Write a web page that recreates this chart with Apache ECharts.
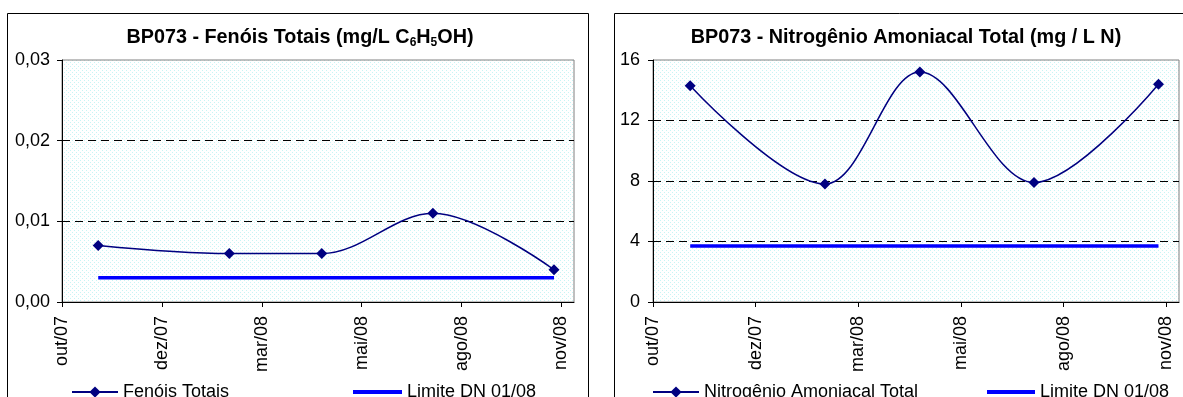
<!DOCTYPE html>
<html><head><meta charset="utf-8">
<script src="https://cdn.jsdelivr.net/npm/echarts@6/dist/echarts.min.js"></script>
<style>html,body{margin:0;padding:0;background:#fff}#c{width:1183px;height:397px}</style>
</head><body><div id="c"></div>
<script>
// ---- data ----
const axisStart = '2007-10-01';
const sampleDates = ['2007-10-30', '2008-02-12', '2008-04-26', '2008-07-24', '2008-10-29'];
const fenoisValues = [0.007, 0.006, 0.006, 0.011, 0.004];
const fenoisLimit = 0.003;
const nitrogenioValues = [14.3, 7.8, 15.2, 7.9, 14.4];
const nitrogenioLimit = 3.7;
const tickDays = [0, 80, 160, 240, 320, 400];
const tickLabels = ['out/07', 'dez/07', 'mar/08', 'mai/08', 'ago/08', 'nov/08'];
const axisEndDay = 410;
const fenoisTicks = ['0,00', '0,01', '0,02', '0,03'];
const nitrogenioTicks = ['0', '4', '8', '12', '16'];

// ---- helpers ----
function dayOf(s) {
  const p = s.split('-').map(Number);
  const a = axisStart.split('-').map(Number);
  return Math.round((Date.UTC(p[0], p[1] - 1, p[2]) - Date.UTC(a[0], a[1] - 1, a[2])) / 864e5);
}
const xs = sampleDates.map(dayOf);
const fenoisData = xs.map((x, i) => [x, fenoisValues[i]]);
const nitroData = xs.map((x, i) => [x, nitrogenioValues[i]]);
const fenoisLimitData = [[xs[0], fenoisLimit], [xs[xs.length - 1], fenoisLimit]];
const nitroLimitData = [[xs[0], nitrogenioLimit], [xs[xs.length - 1], nitrogenioLimit]];

// dotted background pattern
const pc = document.createElement('canvas');
pc.width = 4; pc.height = 4;
const pctx = pc.getContext('2d');
pctx.fillStyle = '#ffffff'; pctx.fillRect(0, 0, 4, 4);
pctx.fillStyle = '#c8f4f4';
pctx.fillRect(0, 0, 1, 1); pctx.fillRect(2, 2, 1, 1);
const bgPattern = { image: pc, repeat: 'repeat' };

const FONT = 'Liberation Sans, Arial, sans-serif';
const chart = echarts.init(document.getElementById('c'), null, { renderer: 'canvas' });

function xAxisCfg(gi) {
  return {
    type: 'value', gridIndex: gi, min: 0, max: axisEndDay,
    axisLine: { show: true, lineStyle: { color: '#000', width: 1 } },
    axisTick: { show: true, length: 5, inside: false, customValues: tickDays, lineStyle: { color: '#000' } },
    axisLabel: {
      customValues: tickDays, rotate: 90, margin: 14, color: '#000', fontFamily: FONT, fontSize: 18,
      formatter: v => tickLabels[tickDays.indexOf(Math.round(v))] || ''
    },
    splitLine: { show: false }
  };
}
function yAxisCfg(gi, max, interval, labels, margin) {
  return {
    type: 'value', gridIndex: gi, min: 0, max: max, interval: interval,
    axisLine: { show: true, lineStyle: { color: '#000', width: 1 } },
    axisTick: { show: true, length: 5, lineStyle: { color: '#000' } },
    axisLabel: {
      margin: margin, color: '#000', fontFamily: FONT, fontSize: 18,
      formatter: v => labels[Math.round(v / interval)]
    },
    splitLine: { show: true, showMinLine: false, showMaxLine: false, lineStyle: { color: '#000', type: [8, 5], width: 1 } }
  };
}
const titleRich = {
  a: { fontFamily: FONT, fontSize: 19.8, fontWeight: 'bold', color: '#000', lineHeight: 22 },
  s: { fontFamily: FONT, fontSize: 12, fontWeight: 'bold', color: '#000', lineHeight: 12, verticalAlign: 'bottom' }
};
const legendText = { fontFamily: FONT, fontSize: 18, color: '#000' };

chart.setOption({
  animation: false,
  backgroundColor: '#fff',
  graphic: [
    { type: 'rect', shape: { x: 7.5, y: 13.5, width: 581, height: 420 }, style: { fill: 'none', stroke: '#000', lineWidth: 1 }, z: -10 },
    { type: 'rect', shape: { x: 614.5, y: 13.5, width: 620, height: 420 }, style: { fill: 'none', stroke: '#000', lineWidth: 1 }, z: -10 }
  ],
  title: [
    { text: '{a|BP073 - Fenóis Totais (mg/L C}{s|6}{a|H}{s|5}{a|OH)}', left: 295, top: 22, textAlign: 'center', textStyle: { rich: titleRich } },
    { text: '{a|BP073 - Nitrogênio Amoniacal Total (mg / L N)}', left: 901, top: 22, textAlign: 'center', textStyle: { rich: titleRich } }
  ],
  legend: [
    { data: ['Fenóis Totais'], left: 71, top: 383, padding: 0, itemWidth: 46, itemHeight: 14, selectedMode: false, textStyle: legendText },
    { data: [{ name: 'Limite DN 01/08', icon: 'rect' }], left: 353, top: 383, padding: 0, itemWidth: 49, itemHeight: 4, selectedMode: false, textStyle: legendText },
    { data: ['Nitrogênio Amoniacal Total'], left: 652, top: 383, padding: 0, itemWidth: 46, itemHeight: 14, selectedMode: false, textStyle: legendText },
    { data: [{ name: 'Limite DN 01/08 ', icon: 'rect' }], left: 987, top: 383, padding: 0, itemWidth: 48, itemHeight: 4, selectedMode: false, textStyle: legendText, formatter: n => n.trim() }
  ],
  grid: [
    { left: 62, top: 60, width: 512, height: 242, show: true, backgroundColor: bgPattern, borderColor: '#808080', borderWidth: 1 },
    { left: 653, top: 60, width: 526, height: 242, show: true, backgroundColor: bgPattern, borderColor: '#808080', borderWidth: 1 }
  ],
  xAxis: [xAxisCfg(0), xAxisCfg(1)],
  yAxis: [
    yAxisCfg(0, 0.03, 0.01, fenoisTicks, 12),
    yAxisCfg(1, 16, 4, nitrogenioTicks, 13)
  ],
  series: [
    { name: 'Limite DN 01/08', type: 'line', xAxisIndex: 0, yAxisIndex: 0, data: fenoisLimitData, symbol: 'none',
      lineStyle: { color: '#0000ff', width: 3.5 }, itemStyle: { color: '#0000ff' }, z: 2 },
    { name: 'Fenóis Totais', type: 'line', xAxisIndex: 0, yAxisIndex: 0, data: fenoisData, smooth: 0.35,
      symbol: 'diamond', symbolSize: 11, lineStyle: { color: '#000080', width: 1.5 }, itemStyle: { color: '#000080' }, z: 3 },
    { name: 'Limite DN 01/08 ', type: 'line', xAxisIndex: 1, yAxisIndex: 1, data: nitroLimitData, symbol: 'none',
      lineStyle: { color: '#0000ff', width: 3.5 }, itemStyle: { color: '#0000ff' }, z: 2 },
    { name: 'Nitrogênio Amoniacal Total', type: 'line', xAxisIndex: 1, yAxisIndex: 1, data: nitroData, smooth: 0.35,
      symbol: 'diamond', symbolSize: 11, lineStyle: { color: '#000080', width: 1.5 }, itemStyle: { color: '#000080' }, z: 3 }
  ]
});
</script>
</body></html>
